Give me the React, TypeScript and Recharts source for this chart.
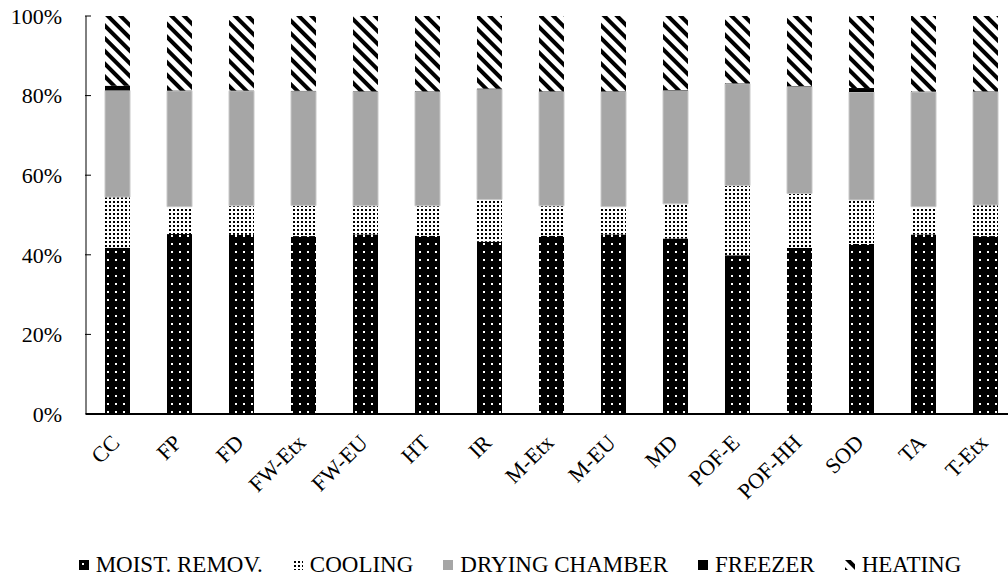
import React from "react";
import { BarChart, Bar, XAxis, YAxis, Legend } from "recharts";

const categories = ["CC", "FP", "FD", "FW-Etx", "FW-EU", "HT", "IR", "M-Etx", "M-EU", "MD", "POF-E", "POF-HH", "SOD", "TA", "T-Etx"];
const moistRemov = [41.8, 45.2, 45.0, 44.7, 45.1, 44.8, 43.3, 44.8, 45.1, 44.1, 39.9, 41.7, 42.7, 45.1, 44.7];
const cooling = [12.7, 6.9, 7.3, 7.7, 7.2, 7.5, 10.6, 7.5, 7.0, 8.7, 17.5, 13.7, 11.1, 7.0, 7.8];
const dryingChamber = [26.8, 29.1, 28.9, 28.7, 28.7, 28.7, 27.7, 28.7, 28.9, 28.5, 25.6, 26.9, 27.1, 28.8, 28.5];
const freezer = [1.2, 0.1, 0.1, 0.1, 0.1, 0.1, 0.2, 0.1, 0.1, 0.1, 0.1, 0.1, 1.0, 0.1, 0.1];
const heating = [17.5, 18.7, 18.7, 18.8, 18.9, 18.9, 18.2, 18.9, 18.9, 18.6, 16.9, 17.6, 18.1, 19.0, 18.9];
const yTicks = [0, 20, 40, 60, 80, 100];

const series = [
  { key: "moist", name: "MOIST. REMOV.", values: moistRemov, fill: "url(#moistPat)" },
  { key: "cooling", name: "COOLING", values: cooling, fill: "url(#coolPat)" },
  { key: "drying", name: "DRYING CHAMBER", values: dryingChamber, fill: "#a6a6a6" },
  { key: "freezer", name: "FREEZER", values: freezer, fill: "#000000" },
  { key: "heating", name: "HEATING", values: heating, fill: "url(#heatPat)" },
];

const data = categories.map((name, i) => {
  const row: any = { name };
  series.forEach((s) => (row[s.key] = s.values[i]));
  return row;
});

const FONT = '"Liberation Serif", "Times New Roman", serif';

const YTick = ({ x, y, payload }: any) => (
  <g>
    <line x1={x - 1} x2={x + 5} y1={y} y2={y} stroke="#000" strokeWidth={1} />
    <text x={x - 24} y={y} dy="0.35em" textAnchor="end" fontFamily={FONT} fontSize={22} fill="#000">
      {payload.value}%
    </text>
  </g>
);

const XTick = ({ x, y, payload }: any) => {
  const px = x + 4;
  const py = y + 30;
  return (
    <text x={px} y={py} textAnchor="end" transform={`rotate(-45, ${px}, ${py})`} fontFamily={FONT} fontSize={22} fill="#000">
      {payload.value}
    </text>
  );
};

const LegendContent = () => (
  <div style={{ display: "flex", justifyContent: "center", alignItems: "center", gap: 30, fontFamily: FONT, fontSize: 23, color: "#000" }}>
    {series.map((s) => (
      <div key={s.key} style={{ display: "flex", alignItems: "center" }}>
        <svg width={10} height={10} style={{ marginRight: 7 }}>
          <rect width={10} height={10} fill={s.fill} />
        </svg>
        <span>{s.name}</span>
      </div>
    ))}
  </div>
);

export default function App() {
  return (
    <div style={{ position: "fixed", left: 0, top: 0, width: 1008, height: 584, overflow: "hidden", background: "#fff" }}>
      <BarChart width={1040} height={584} data={data} margin={{ top: 16, right: 24, left: 0, bottom: 0 }} barSize={25}>
        <defs>
          <pattern id="moistPat" patternUnits="userSpaceOnUse" width={8} height={8}>
            <rect width={8} height={8} fill="#000" />
            <rect x={3} y={3} width={2} height={2} fill="#fff" />
          </pattern>
          <pattern id="coolPat" patternUnits="userSpaceOnUse" width={4} height={4}>
            <rect width={4} height={4} fill="#fff" />
            <rect x={1} y={1} width={2} height={2} fill="#000" />
          </pattern>
          <pattern id="heatPat" patternUnits="userSpaceOnUse" width={9} height={9} patternTransform="rotate(-45)">
            <rect width={9} height={9} fill="#fff" />
            <rect x={0} y={0} width={4} height={9} fill="#000" />
          </pattern>
        </defs>
        <XAxis
          dataKey="name"
          interval={0}
          height={170}
          tickLine={false}
          tickSize={0}
          tickMargin={0}
          axisLine={{ stroke: "#000", strokeWidth: 2 }}
          tick={<XTick />}
        />
        <YAxis
          width={86}
          domain={[0, 100]}
          ticks={yTicks}
          tickLine={false}
          tickSize={0}
          tickMargin={0}
          axisLine={{ stroke: "#000", strokeWidth: 1 }}
          tick={<YTick />}
        />
        <Legend
          layout="horizontal"
          verticalAlign="middle"
          align="center"
          wrapperStyle={{ top: 552, left: 0, width: 1040 }}
          content={<LegendContent />}
        />
        {series.map((s) => (
          <Bar
            key={s.key}
            dataKey={s.key}
            name={s.name}
            stackId="a"
            fill={s.fill}
            stroke={s.key === "drying" ? "#c8c8c8" : "none"}
            strokeWidth={1}
            isAnimationActive={false}
          />
        ))}
      </BarChart>
    </div>
  );
}
